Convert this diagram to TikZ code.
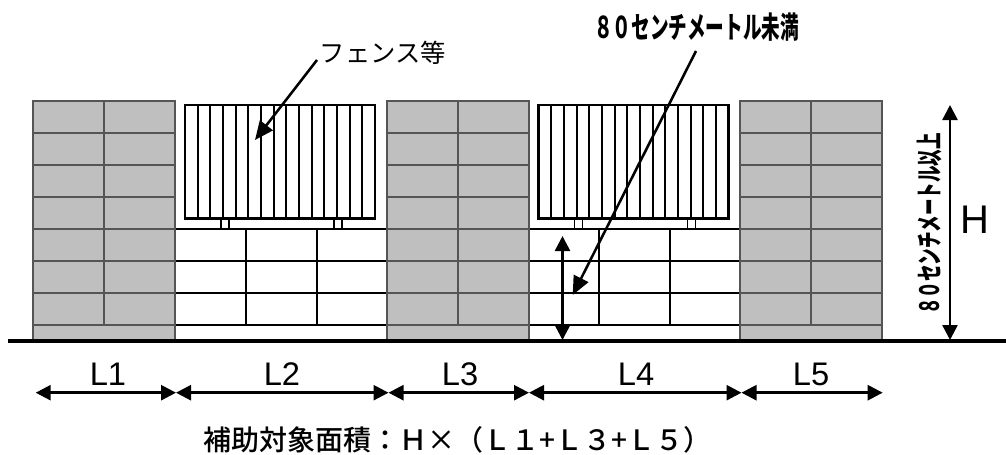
\documentclass[tikz,border=0pt]{standalone}
\usepackage{fontspec}
\usetikzlibrary{arrows.meta}
\setmainfont{Liberation Sans}
\newfontfamily\jp{Noto Sans CJK JP}
\newfontfamily\jpm{Noto Sans CJK JP Medium}
\newfontfamily\jpk{Noto Sans CJK JP Black}
\definecolor{blockfill}{HTML}{BFBFBF}
\definecolor{blockline}{HTML}{555555}
\tikzset{
 x=0.75pt,y=-0.75pt,
 grayline/.style={draw=blockline,line width=1.5pt},
 blackline/.style={draw=black,line width=1.5pt},
 dbl/.style={line width=1.9pt,{Triangle[length=11.25pt,width=11.25pt]}-{Triangle[length=11.25pt,width=11.25pt]}},
 lead/.style={line width=1.9pt,-{Triangle[length=14pt,width=12pt]}},
 lab/.style={inner sep=0pt,font=\fontsize{24.5pt}{24.5pt}\selectfont},
}
\newcommand{\graypier}[1]{%
 \fill[blockfill] (#1,101) rectangle ++(142,239);
 \foreach \y in {133,164.5,196.5,228.5,261,292.5,324.5} \draw[grayline] (#1,\y) -- ++(142,0);
 \draw[grayline] (#1+71,101) -- (#1+71,324.5);
 \draw[grayline] (#1,340) -- (#1,101) -- (#1+142,101) -- (#1+142,340);
}
\newcommand{\whitewall}[1]{%
 \foreach \y in {229,261,292.5,324.5} \draw[blackline] (#1,\y) -- ++(212,0);
 \draw[blackline] (#1+70.5,229) -- (#1+70.5,324.5);
 \draw[blackline] (#1+141.5,229) -- (#1+141.5,324.5);
}
\newcommand{\fence}[1]{%
 \draw[blackline,line width=2pt] (#1,105) rectangle ++(190,113.5);
 \foreach \i in {1,...,14} \draw[blackline] (#1+\i*12.67,105) -- (#1+\i*12.67,218.5);
 \draw[blackline,line width=1.2pt] (#1+36,218.5) rectangle (#1+44,229);
 \draw[blackline,line width=1.2pt] (#1+149,218.5) rectangle (#1+157,229);
}
\begin{document}
\begin{tikzpicture}
\useasboundingbox (0,0) rectangle (1006,454);
\whitewall{175}
\whitewall{528}
\graypier{33}
\graypier{387}
\graypier{740}
\fence{185}
\fence{538.5}
\draw[line width=2.8pt] (8,341) -- (1006,341);
% labels
\node[inner sep=0pt,font=\jp\fontsize{19pt}{19pt}\selectfont] (fence) at (383,52.5) {フェンス等};
\node[inner sep=0pt,xscale=0.62,font=\jpk\fontsize{22.5pt}{22.5pt}\selectfont] (under) at (696.5,27) {８０センチメートル未満};
\node[inner sep=0pt,rotate=90,xscale=0.62,font=\jpk\fontsize{20pt}{20pt}\selectfont] (over) at (930,224) {８０センチメートル以上};
\node[inner sep=0pt,font=\fontsize{30pt}{30pt}\selectfont] (H) at (975,220) {H};
\node[lab] (L1) at (108,374.5) {L1};
\node[lab] (L2) at (282,374.5) {L2};
\node[lab] (L3) at (460,374.5) {L3};
\node[lab] (L4) at (636,374.5) {L4};
\node[lab] (L5) at (811,374.5) {L5};
\node[inner sep=0pt,anchor=west,font=\jpm\fontsize{21pt}{21pt}\selectfont] (area) at (203,440) {補助対象面積：Ｈ×（Ｌ１+Ｌ３+Ｌ５）};
% connector ends
\foreach \n/\x in {a/35.7,b/176,c/388.5,d/529,e/741.5,f/882.7} \coordinate (\n) at (\x,392.7);
\coordinate (fenceS) at (317,60);
\coordinate (fenceT) at (255,140);
\coordinate (underS) at (696,51);
\coordinate (underT) at (572.7,295);
\coordinate (hT) at (950,105);
\coordinate (hB) at (950,340);
\coordinate (uT) at (562.5,236);
\coordinate (uB) at (562.5,340);
% connectors
\draw[dbl] (a) -- (b);
\draw[dbl] (b) -- (c);
\draw[dbl] (c) -- (d);
\draw[dbl] (d) -- (e);
\draw[dbl] (e) -- (f);
\draw[dbl] (hT) -- (hB);
\draw[dbl] (uT) -- (uB);
\draw[lead] (fenceS) -- (fenceT);
\draw[lead] (underS) -- (underT);
\end{tikzpicture}
\end{document}
